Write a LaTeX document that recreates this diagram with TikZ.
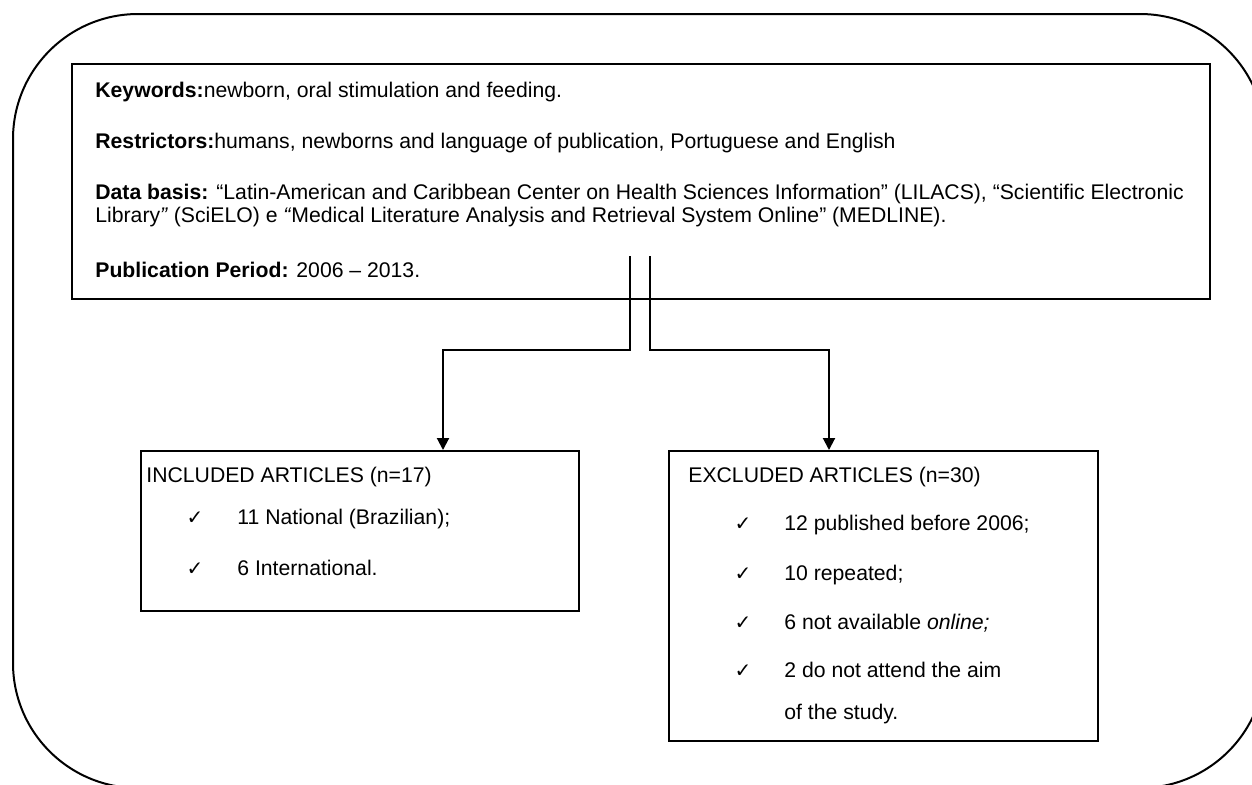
\documentclass[tikz,border=0pt]{standalone}
\usepackage{fontspec}
\setmainfont{Liberation Sans}
\newfontfamily\checkfont{DejaVu Sans}
\usetikzlibrary{arrows.meta,positioning}

\newcommand{\chkmark}{{\checkfont\fontsize{10}{10}\selectfont ✓}}

\begin{document}
\begin{tikzpicture}[
    x=0.5pt, y=-0.5pt,
    font=\fontsize{10.6}{12.7}\selectfont,
    box/.style={draw, line width=1pt, inner sep=0pt, anchor=north west},
    txt/.style={anchor=base west, inner sep=0pt},
    chk/.style={anchor=base, inner sep=0pt},
    arr/.style={-{Triangle[length=6pt,width=6pt]}, line width=1pt}
  ]
    \useasboundingbox (0,0) rectangle (1252,784);

    % Outer frame
    \draw[line width=1pt, rounded corners=62.5pt] (13,14) rectangle (1265,788);

    % Search box
    \node[box, minimum width=569pt, minimum height=117.5pt] (search) at (71,63) {};
    \node[txt] (kw)  at (95,97)  {\textbf{Keywords:}newborn, oral stimulation and feeding.};
    \node[txt] (rs)  at (95,148) {\textbf{Restrictors:}humans, newborns and language of publication, Portuguese and English};
    \node[txt] (db1) at (95,199) {\textbf{Data basis:} “Latin-American and Caribbean Center on Health Sciences Information” (LILACS), “Scientific Electronic};
    \node[txt] (db2) at (95,222) {Library\textit{”} (SciELO) e \textit{“}Medical Literature Analysis and Retrieval System Online” (MEDLINE).};
    \node[txt] (pp)  at (95,277) {\textbf{Publication Period:} 2006 – 2013.};

    % Result boxes
    \node[box, minimum width=219pt, minimum height=80pt] (inc) at (140,450) {};
    \node[box, minimum width=214.5pt, minimum height=145pt] (exc) at (668,450) {};

    % Included articles
    \node[txt] (incT) at (146,482) {INCLUDED ARTICLES (n=17)};
    \foreach \yy/\lbl [count=\i] in {524/{11 National (Brazilian);}, 575/{6 International.}} {
      \node[chk] (incc\i) at (195,\yy) {\chkmark};
      \node[txt] (inci\i) at (237,\yy) {\lbl};
    }

    % Excluded articles
    \node[txt] (excT) at (688,482) {EXCLUDED ARTICLES (n=30)};
    \foreach \yy/\lbl [count=\i] in {530/{12 published before 2006;}, 580/{10 repeated;}, 629/{6 not available \textit{online;}}, 677/{2 do not attend the aim}} {
      \node[chk] (excc\i) at (743,\yy) {\chkmark};
      \node[txt] (exci\i) at (784,\yy) {\lbl};
    }
    \node[txt] (exci5) at (784,719) {of the study.};

    % Connectors
    \coordinate (sL) at (630,256);
    \coordinate (sR) at (650,256);
    \coordinate (aL) at (443,350);
    \coordinate (aR) at (829,350);
    \draw[arr] (sL) |- (aL) -- (aL |- inc.north);
    \draw[arr] (sR) |- (aR) -- (aR |- exc.north);
\end{tikzpicture}
\end{document}
